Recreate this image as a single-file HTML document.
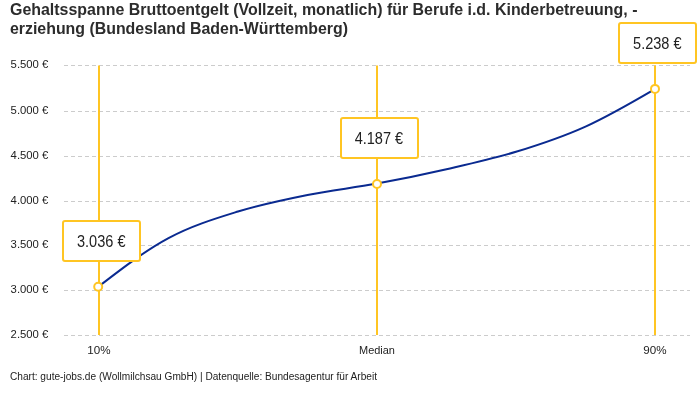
<!DOCTYPE html>
<html><head><meta charset="utf-8"><style>
html,body{margin:0;padding:0;background:#fff;}
body{width:700px;height:400px;overflow:hidden;position:relative;font-family:"Liberation Sans",sans-serif;}
svg{position:absolute;left:0;top:0;will-change:transform;font-family:"Liberation Sans",sans-serif;}
</style></head><body>
<svg width="700" height="400" viewBox="0 0 700 400">
<text x="10" y="14.8" font-size="16" font-weight="bold" fill="#2c2c2c" textLength="627.5" lengthAdjust="spacingAndGlyphs">Gehaltsspanne Bruttoentgelt (Vollzeit, monatlich) für Berufe i.d. Kinderbetreuung, -</text>
<text x="10" y="33.8" font-size="16" font-weight="bold" fill="#2c2c2c" textLength="338" lengthAdjust="spacingAndGlyphs">erziehung (Bundesland Baden-Württemberg)</text>
<line x1="64" y1="65.5" x2="690" y2="65.5" stroke="#cccccc" stroke-width="1" stroke-dasharray="4 3"/>
<line x1="64" y1="111.5" x2="690" y2="111.5" stroke="#cccccc" stroke-width="1" stroke-dasharray="4 3"/>
<line x1="64" y1="156.5" x2="690" y2="156.5" stroke="#cccccc" stroke-width="1" stroke-dasharray="4 3"/>
<line x1="64" y1="201.5" x2="690" y2="201.5" stroke="#cccccc" stroke-width="1" stroke-dasharray="4 3"/>
<line x1="64" y1="245.5" x2="690" y2="245.5" stroke="#cccccc" stroke-width="1" stroke-dasharray="4 3"/>
<line x1="64" y1="290.5" x2="690" y2="290.5" stroke="#cccccc" stroke-width="1" stroke-dasharray="4 3"/>
<line x1="64" y1="335.5" x2="690" y2="335.5" stroke="#cccccc" stroke-width="1" stroke-dasharray="4 3"/>
<text x="48.3" y="68.3" text-anchor="end" font-size="11.3" fill="#222">5.500 €</text>
<text x="48.3" y="114.3" text-anchor="end" font-size="11.3" fill="#222">5.000 €</text>
<text x="48.3" y="159.3" text-anchor="end" font-size="11.3" fill="#222">4.500 €</text>
<text x="48.3" y="204.3" text-anchor="end" font-size="11.3" fill="#222">4.000 €</text>
<text x="48.3" y="248.3" text-anchor="end" font-size="11.3" fill="#222">3.500 €</text>
<text x="48.3" y="293.3" text-anchor="end" font-size="11.3" fill="#222">3.000 €</text>
<text x="48.3" y="338.3" text-anchor="end" font-size="11.3" fill="#222">2.500 €</text>
<line x1="99" y1="65.5" x2="99" y2="335" stroke="#ffc523" stroke-width="2"/>
<line x1="377" y1="65.5" x2="377" y2="335" stroke="#ffc523" stroke-width="2"/>
<line x1="655" y1="65.5" x2="655" y2="335" stroke="#ffc523" stroke-width="2"/>
<path d="M98.40,286.64 C121.77,268.63 145.13,250.63 168.50,238.08 C191.67,225.64 214.83,218.68 238.00,211.49 C261.17,204.29 284.33,199.57 307.50,194.92 C330.67,190.27 353.83,187.86 377.00,183.57 C400.17,179.27 423.33,174.47 446.50,169.17 C469.67,163.87 492.83,158.87 516.00,151.76 C539.17,144.66 562.33,137.00 585.50,126.54 C608.67,116.08 631.83,102.53 655.00,88.98" fill="none" stroke="#0a2a90" stroke-width="2" stroke-linejoin="round" stroke-linecap="round"/>
<circle cx="98.2" cy="286.7" r="4" fill="#fff" stroke="#ffc523" stroke-width="2"/>
<circle cx="377" cy="184" r="4" fill="#fff" stroke="#ffc523" stroke-width="2"/>
<circle cx="655" cy="88.9" r="4" fill="#fff" stroke="#ffc523" stroke-width="2"/>
<rect x="63" y="221" width="77" height="40" rx="2" fill="#fff" stroke="#ffc523" stroke-width="2"/>
<text x="101.25" y="247.00" text-anchor="middle" font-size="15.6" fill="#222" textLength="48.5" lengthAdjust="spacingAndGlyphs">3.036 €</text>
<rect x="341" y="118" width="77" height="40" rx="2" fill="#fff" stroke="#ffc523" stroke-width="2"/>
<text x="378.90" y="144.00" text-anchor="middle" font-size="15.6" fill="#222" textLength="48.5" lengthAdjust="spacingAndGlyphs">4.187 €</text>
<rect x="619" y="23" width="77" height="40" rx="2" fill="#fff" stroke="#ffc523" stroke-width="2"/>
<text x="657.30" y="49.00" text-anchor="middle" font-size="15.6" fill="#222" textLength="48.5" lengthAdjust="spacingAndGlyphs">5.238 €</text>
<text x="98.9" y="354" text-anchor="middle" font-size="11" fill="#222" textLength="23.3" lengthAdjust="spacingAndGlyphs">10%</text>
<text x="377" y="354" text-anchor="middle" font-size="11" fill="#222" textLength="35.9" lengthAdjust="spacingAndGlyphs">Median</text>
<text x="655" y="354" text-anchor="middle" font-size="11" fill="#222" textLength="23.3" lengthAdjust="spacingAndGlyphs">90%</text>
<text x="10" y="379.6" font-size="10" fill="#222" textLength="367" lengthAdjust="spacingAndGlyphs">Chart: gute-jobs.de (Wollmilchsau GmbH) | Datenquelle: Bundesagentur für Arbeit</text>
</svg>
</body></html>
